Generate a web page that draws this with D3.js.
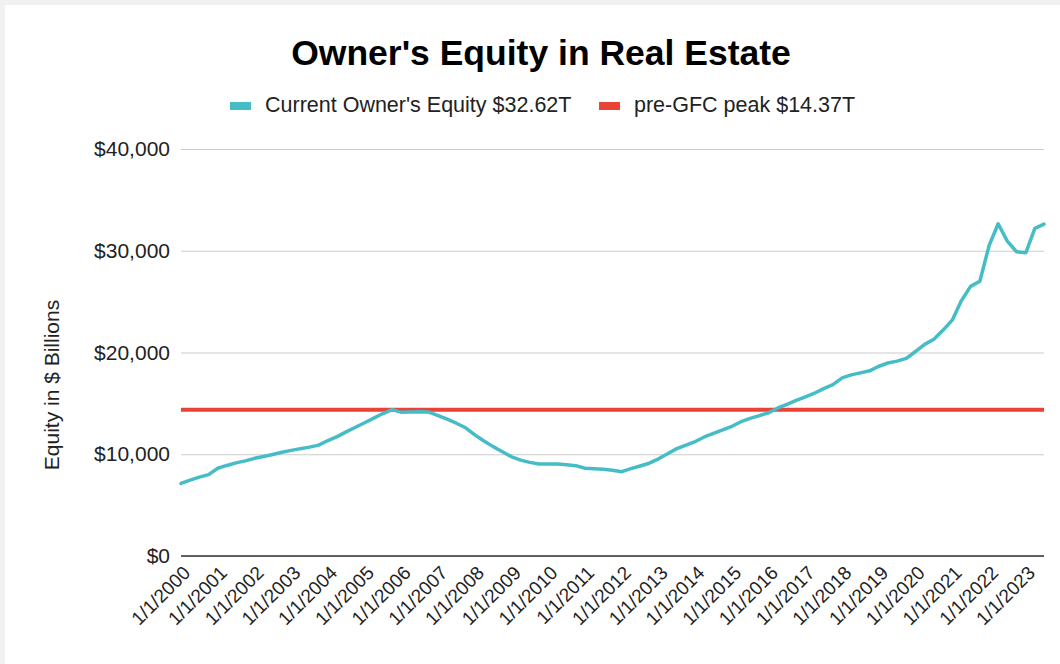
<!DOCTYPE html>
<html>
<head>
<meta charset="utf-8">
<script src="https://cdn.jsdelivr.net/npm/d3@7"></script>
<style>
  html, body { margin: 0; padding: 0; background: #f1f1f1; }
  svg { display: block; }
  text { font-family: Arial, "Liberation Sans", sans-serif; fill: #222; }
</style>
</head>
<body>
<svg id="chart"></svg>
<script>
// quarterly data, Fed Z.1 owner's equity in household real estate ($ billions)
const quarterDates = [
  '1/1/2000', '4/1/2000', '7/1/2000', '10/1/2000',
  '1/1/2001', '4/1/2001', '7/1/2001', '10/1/2001',
  '1/1/2002', '4/1/2002', '7/1/2002', '10/1/2002',
  '1/1/2003', '4/1/2003', '7/1/2003', '10/1/2003',
  '1/1/2004', '4/1/2004', '7/1/2004', '10/1/2004',
  '1/1/2005', '4/1/2005', '7/1/2005', '10/1/2005',
  '1/1/2006', '4/1/2006', '7/1/2006', '10/1/2006',
  '1/1/2007', '4/1/2007', '7/1/2007', '10/1/2007',
  '1/1/2008', '4/1/2008', '7/1/2008', '10/1/2008',
  '1/1/2009', '4/1/2009', '7/1/2009', '10/1/2009',
  '1/1/2010', '4/1/2010', '7/1/2010', '10/1/2010',
  '1/1/2011', '4/1/2011', '7/1/2011', '10/1/2011',
  '1/1/2012', '4/1/2012', '7/1/2012', '10/1/2012',
  '1/1/2013', '4/1/2013', '7/1/2013', '10/1/2013',
  '1/1/2014', '4/1/2014', '7/1/2014', '10/1/2014',
  '1/1/2015', '4/1/2015', '7/1/2015', '10/1/2015',
  '1/1/2016', '4/1/2016', '7/1/2016', '10/1/2016',
  '1/1/2017', '4/1/2017', '7/1/2017', '10/1/2017',
  '1/1/2018', '4/1/2018', '7/1/2018', '10/1/2018',
  '1/1/2019', '4/1/2019', '7/1/2019', '10/1/2019',
  '1/1/2020', '4/1/2020', '7/1/2020', '10/1/2020',
  '1/1/2021', '4/1/2021', '7/1/2021', '10/1/2021',
  '1/1/2022', '4/1/2022', '7/1/2022', '10/1/2022',
  '1/1/2023', '4/1/2023', '7/1/2023'
];

const equityValues = [
  7140, 7450, 7750, 8000,
  8620, 8900, 9150, 9350,
  9600, 9780, 9980, 10200,
  10380, 10550, 10700, 10900,
  11350, 11730, 12200, 12650,
  13100, 13550, 14000, 14380,
  14120, 14150, 14180, 14150,
  13800, 13450, 13050, 12600,
  11900, 11300, 10750, 10250,
  9750, 9420, 9200, 9040,
  9040, 9040, 8970, 8880,
  8620, 8570, 8520, 8420,
  8290, 8580, 8850, 9120,
  9550, 10050, 10550, 10900,
  11250, 11700, 12050, 12400,
  12750, 13200, 13530, 13800,
  14080, 14550, 14900, 15300,
  15650, 16000, 16450, 16850,
  17500, 17800, 18000, 18200,
  18650, 18970, 19150, 19430,
  20100, 20800, 21300, 22200,
  23200, 25100, 26500, 27000,
  30500, 32650, 30950, 29900,
  29800, 32200, 32620
];

const preGfcPeak = 14370;

const seriesNames = ["Current Owner's Equity $32.62T", 'pre-GFC peak $14.37T'];
const seriesColors = ['#46bdc6', '#ea4335'];

const xTickLabels = [
  '1/1/2000', '1/1/2001', '1/1/2002', '1/1/2003', '1/1/2004', '1/1/2005',
  '1/1/2006', '1/1/2007', '1/1/2008', '1/1/2009', '1/1/2010', '1/1/2011',
  '1/1/2012', '1/1/2013', '1/1/2014', '1/1/2015', '1/1/2016', '1/1/2017',
  '1/1/2018', '1/1/2019', '1/1/2020', '1/1/2021', '1/1/2022', '1/1/2023'
];
const yTickValues = [0, 10000, 20000, 30000, 40000];

const width = 1060;
const height = 664;
const chartArea = { left: 181, right: 1044, top: 149, bottom: 556 };

const parseDate = d3.timeParse('%m/%d/%Y');
const records = quarterDates.map((d, i) => ({ date: parseDate(d), value: equityValues[i] }));

const scaleX = d3.scaleTime()
  .domain(d3.extent(records, d => d.date))
  .range([chartArea.left, chartArea.right]);

const scaleY = d3.scaleLinear()
  .domain([0, 40000])
  .range([chartArea.bottom, chartArea.top]);

const svg = d3.select('#chart')
  .attr('width', width)
  .attr('height', height);

// white card with the thin grey margin at top/left
svg.append('rect')
  .attr('x', 5)
  .attr('y', 5)
  .attr('width', width - 5)
  .attr('height', height - 5)
  .attr('fill', '#fff');

svg.append('text')
  .attr('x', 541)
  .attr('y', 65)
  .attr('text-anchor', 'middle')
  .style('font-size', '35.5px')
  .style('font-weight', 'bold')
  .style('fill', '#000')
  .text("Owner's Equity in Real Estate");

// legend
const legendItems = [
  { name: seriesNames[0], color: seriesColors[0], x: 230 },
  { name: seriesNames[1], color: seriesColors[1], x: 599 }
];

const legend = svg.append('g').attr('class', 'legend');

legend.selectAll('rect')
  .data(legendItems)
  .enter()
  .append('rect')
  .attr('x', d => d.x)
  .attr('y', 102)
  .attr('width', 21)
  .attr('height', 8)
  .attr('fill', d => d.color);

legend.selectAll('text')
  .data(legendItems)
  .enter()
  .append('text')
  .attr('x', d => d.x + 35)
  .attr('y', 112)
  .style('font-size', '21.5px')
  .style('fill', '#222')
  .text(d => d.name);

// y axis + gridlines
const axisY = d3.axisLeft(scaleY)
  .tickValues(yTickValues)
  .tickFormat(d => '$' + d3.format(',')(d))
  .tickSize(-(chartArea.right - chartArea.left))
  .tickPadding(11);

const groupAxisY = svg.append('g')
  .attr('transform', `translate(${chartArea.left},0)`)
  .call(axisY);

groupAxisY.select('.domain').remove();
groupAxisY.selectAll('line')
  .attr('stroke', '#ccc')
  .attr('stroke-width', 1.2);
groupAxisY.selectAll('text')
  .style('font-size', '21px')
  .style('font-family', 'Arial, "Liberation Sans", sans-serif')
  .style('fill', '#222');

svg.append('text')
  .attr('transform', 'translate(59,385) rotate(-90)')
  .attr('text-anchor', 'middle')
  .style('font-size', '21px')
  .style('fill', '#222')
  .text('Equity in $ Billions');

// x axis with slanted labels
const axisX = d3.axisBottom(scaleX)
  .tickValues(xTickLabels.map(parseDate))
  .tickFormat(d3.timeFormat('%-m/%-d/%Y'))
  .tickSize(0);

const groupAxisX = svg.append('g')
  .attr('transform', `translate(0,${chartArea.bottom})`)
  .call(axisX);

groupAxisX.select('.domain').remove();
groupAxisX.selectAll('text')
  .attr('x', null)
  .attr('y', null)
  .attr('dy', null)
  .attr('text-anchor', 'end')
  .attr('transform', 'translate(10,18) rotate(-45)')
  .style('font-size', '19px')
  .style('font-family', 'Arial, "Liberation Sans", sans-serif')
  .style('fill', '#222');

svg.append('line')
  .attr('x1', chartArea.left)
  .attr('x2', chartArea.right)
  .attr('y1', scaleY(0))
  .attr('y2', scaleY(0))
  .attr('stroke', '#333')
  .attr('stroke-width', 1.5);

// series
const generatorLine = d3.line()
  .x(d => scaleX(d.date))
  .y(d => scaleY(d.value));

svg.append('path')
  .attr('d', d3.line()
    .x(d => scaleX(d.date))
    .y(() => scaleY(preGfcPeak))(records))
  .attr('fill', 'none')
  .attr('stroke', seriesColors[1])
  .attr('stroke-width', 4);

svg.append('path')
  .attr('d', generatorLine(records))
  .attr('fill', 'none')
  .attr('stroke', seriesColors[0])
  .attr('stroke-width', 3.5)
  .attr('stroke-linejoin', 'round')
  .attr('stroke-linecap', 'round');
</script>
</body>
</html>
